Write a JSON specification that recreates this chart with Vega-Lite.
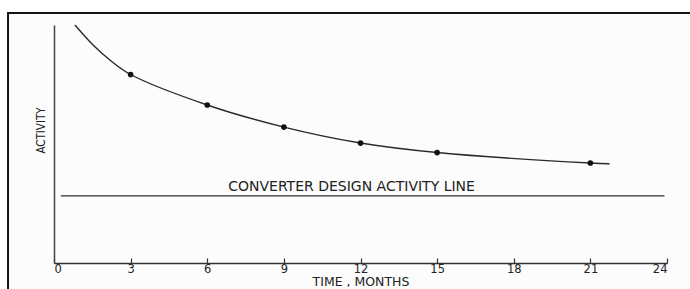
{
  "$schema": "https://vega.github.io/schema/vega-lite/v6.json",
  "autosize": {"type": "none"},
  "width": 613,
  "height": 238,
  "padding": {"left": 54, "top": 25, "right": 23, "bottom": 26},
  "background": "#ffffff",
  "config": {"view": {"stroke": null}, "font": "DejaVu Sans"},
  "datasets": {
    "curve": [
      {"month": 0.82, "activity": 100.0},
      {"month": 1.53, "activity": 91.6},
      {"month": 2.2, "activity": 85.2},
      {"month": 3.0, "activity": 79.2},
      {"month": 6.0, "activity": 66.4},
      {"month": 9.0, "activity": 57.1},
      {"month": 12.0, "activity": 50.4},
      {"month": 15.0, "activity": 46.4},
      {"month": 21.0, "activity": 42.0},
      {"month": 21.75, "activity": 41.7}
    ],
    "points": [
      {"month": 3, "activity": 79.2},
      {"month": 6, "activity": 66.4},
      {"month": 9, "activity": 57.1},
      {"month": 12, "activity": 50.4},
      {"month": 15, "activity": 46.4},
      {"month": 21, "activity": 42.0}
    ],
    "design": [
      {"start": 0.27, "end": 23.9, "activity": 28.2, "label": "CONVERTER DESIGN ACTIVITY LINE", "labelMonth": 11.65, "labelActivity": 31.9}
    ]
  },
  "layer": [
    {
      "data": {"values": [{"x": -1.8, "x2": 30, "y": 105, "y2": -20}]},
      "mark": {"type": "rect", "fill": "#fcfcfc", "stroke": "#151515", "strokeWidth": 2, "clip": false},
      "encoding": {
        "x": {"field": "x", "type": "quantitative", "scale": {"domain": [0, 24]}},
        "x2": {"field": "x2"},
        "y": {"field": "y", "type": "quantitative", "scale": {"domain": [0, 100]}},
        "y2": {"field": "y2"}
      }
    },
    {
      "data": {"name": "curve"},
      "mark": {"type": "line", "color": "#2a2a2a", "strokeWidth": 1.4, "interpolate": "catmull-rom"},
      "encoding": {
        "x": {
          "field": "month", "type": "quantitative",
          "scale": {"domain": [0, 24], "nice": false},
          "axis": {
            "zindex": 1,
            "values": [0, 3, 6, 9, 12, 15, 18, 21, 24],
            "title": "TIME , MONTHS",
            "titleFont": "DejaVu Sans", "titleFontSize": 12.5, "titleFontWeight": "normal",
            "titleColor": "#222", "titlePadding": 1,
            "labelFont": "DejaVu Sans", "labelFontSize": 11.5, "labelColor": "#222",
            "labelPadding": 5,
            "domainColor": "#333", "domainWidth": 1.5,
            "tickColor": "#333", "tickSize": -5, "tickWidth": 1.2,
            "grid": false
          }
        },
        "y": {
          "field": "activity", "type": "quantitative",
          "scale": {"domain": [0, 100], "nice": false},
          "axis": {
            "zindex": 1,
            "title": "ACTIVITY", "labels": false, "ticks": false, "grid": false,
            "domainColor": "#444", "domainWidth": 1.5,
            "titleFont": "DejaVu Sans Condensed", "titleFontSize": 11.5, "titleFontWeight": "normal",
            "titleColor": "#222", "titlePadding": 8, "titleY": 105
          }
        }
      }
    },
    {
      "data": {"name": "points"},
      "mark": {"type": "circle", "color": "#111", "opacity": 1, "size": 32},
      "encoding": {
        "x": {"field": "month", "type": "quantitative"},
        "y": {"field": "activity", "type": "quantitative"}
      }
    },
    {
      "data": {"name": "design"},
      "mark": {"type": "rule", "color": "#2a2a2a", "strokeWidth": 1.3},
      "encoding": {
        "x": {"field": "start", "type": "quantitative"},
        "x2": {"field": "end"},
        "y": {"field": "activity", "type": "quantitative"}
      }
    },
    {
      "data": {"name": "design"},
      "mark": {"type": "text", "font": "DejaVu Sans", "fontSize": 14, "color": "#222", "align": "center", "baseline": "middle"},
      "encoding": {
        "x": {"field": "labelMonth", "type": "quantitative"},
        "y": {"field": "labelActivity", "type": "quantitative"},
        "text": {"field": "label"}
      }
    }
  ]
}
